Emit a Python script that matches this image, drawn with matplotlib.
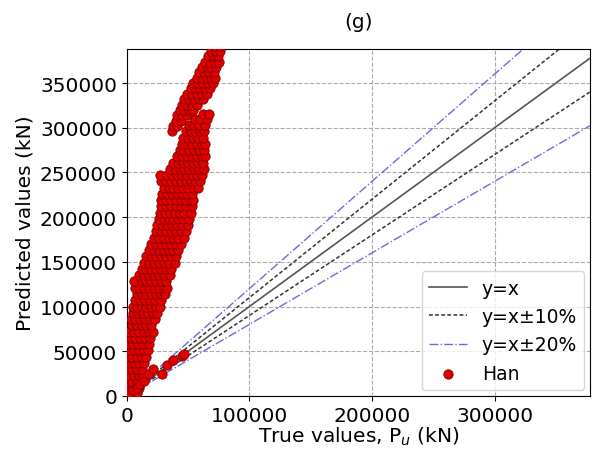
import numpy as np
import matplotlib.pyplot as plt; plt.close('all')

#------------------------------------------------------------------------------
# DATA (values in 1000 kN)
#------------------------------------------------------------------------------

# Han predictions, listed row by row: (predicted, [true values])
han_rows = [
    (3,   [0, 4, 8]),
    (9,   [2, 6, 10]),
    (16,  [0, 4, 8]),
    (23,  [2, 6, 10, 13]),
    (30,  [0, 4, 8, 12]),
    (37,  [2, 6, 10, 14]),
    (44,  [0, 4, 8, 12, 16]),
    (51,  [2, 6, 10, 14, 17]),
    (58,  [1, 5, 9, 13, 18]),
    (65,  [3, 7, 11, 15, 19]),
    (72,  [2, 6, 10, 14, 18, 21]),
    (79,  [4, 8, 12, 16, 20]),
    (86,  [3, 7, 11, 15, 19, 23]),
    (93,  [5, 9, 13, 17, 21, 25]),
    (100, [5, 8, 12, 16, 20, 24, 27]),
    (107, [7, 11, 15, 19, 23, 28]),
    (114, [8, 12, 16, 20, 24, 28, 31]),
    (121, [7, 10, 14, 18, 22, 26, 30, 33]),
    (128, [6, 12, 16, 20, 24, 28, 32]),
    (135, [10, 14, 18, 22, 26, 30, 35]),
    (142, [12, 16, 20, 24, 28, 32, 36]),
    (149, [14, 18, 22, 26, 30, 34, 39]),
    (156, [16, 20, 24, 28, 32, 36, 40]),
    (163, [18, 22, 26, 30, 34, 38, 42]),
    (170, [20, 24, 28, 32, 36, 40, 44]),
    (177, [22, 26, 30, 34, 38, 42, 47]),
    (184, [24, 28, 32, 36, 40, 44, 48]),
    (191, [25, 29, 33, 37, 41, 45, 50]),
    (198, [26, 30, 34, 38, 42, 46, 51]),
    (205, [27, 31, 35, 39, 43, 47, 52]),
    (212, [28, 32, 36, 40, 44, 48, 53]),
    (219, [28, 32, 36, 40, 44, 48, 52, 54]),
    (226, [29, 33, 37, 41, 45, 49, 53]),
    (233, [30, 34, 38, 42, 46, 50, 55, 58]),
    (240, [28, 32, 36, 40, 44, 48, 52, 56, 60]),
    (247, [27, 33, 37, 41, 45, 49, 53, 57, 61]),
    (254, [35, 39, 43, 47, 51, 55, 59, 63]),
    (261, [38, 42, 46, 50, 54, 58, 62]),
    (268, [41, 45, 49, 53, 57, 61, 64]),
    (275, [43, 47, 51, 55, 59, 63]),
    (282, [45, 49, 53, 57, 61, 64]),
    (289, [46, 50, 54, 58, 62]),
    (296, [48, 52, 56, 60, 63]),
    (303, [51, 55, 59, 64]),
    (310, [56, 60, 65]),
    (316, [62, 67]),
    # upper segment
    (296, [37]),
    (302, [38, 41]),
    (308, [40, 44]),
    (314, [41, 45, 49]),
    (320, [43, 47, 51, 54]),
    (326, [45, 49, 53, 57]),
    (332, [47, 51, 55, 59, 62]),
    (338, [49, 53, 57, 61, 65]),
    (344, [52, 56, 60, 64, 68]),
    (350, [54, 58, 62, 66, 70]),
    (356, [57, 61, 65, 69, 72]),
    (362, [59, 63, 67, 71]),
    (368, [61, 65, 69, 73]),
    (374, [64, 68, 72, 75]),
    (380, [66, 70, 74]),
    (386, [69, 73, 76]),
    (392, [72, 76]),
]

# points close to y = x
near_x = [2, 5, 8, 11, 14, 18, 21, 29, 33, 38, 45, 47]
near_y = [3, 6, 9, 13, 17, 24, 30, 25, 35, 40, 45, 47]

han_x = [x for y, xs in han_rows for x in xs] + near_x
han_y = [y for y, xs in han_rows for x in xs] + near_y
han_x = np.array(han_x) * 1000.
han_y = np.array(han_y) * 1000.

#------------------------------------------------------------------------------
# PLOT
#------------------------------------------------------------------------------

fontsize = 14.5
fig = plt.figure(figsize=(6.04, 4.52), dpi=100)
ax = fig.add_axes([0.21, 0.122, 0.767, 0.767])

lim = np.array([0, 400000])
ax.plot(lim, lim, color='#555555', lw=1.2, label='y=x')
ax.plot(lim, lim*1.1, color='#333333', lw=1.1, ls=(0, (2.5, 1.5)), label='y=x±10%')
ax.plot(lim, lim*0.9, color='#333333', lw=1.1, ls=(0, (2.5, 1.5)))
ax.plot(lim, lim*1.2, color='#6a6ae0', lw=1.0, ls='-.', label='y=x±20%')
ax.plot(lim, lim*0.8, color='#6a6ae0', lw=1.0, ls='-.')
ax.scatter(han_x, han_y, s=45, c='#e00000', edgecolors='#800000', linewidths=0.6,
           label='Han', zorder=3)

ax.set_xlim(0, 378000)
ax.set_ylim(0, 388000)
ax.set_xticks([0, 100000, 200000, 300000])
ax.set_yticks(np.arange(0, 350001, 50000))
ax.grid(True, ls='--', color='#aaaaaa', lw=0.8)
ax.tick_params(axis='both', which='major', labelsize=fontsize)
ax.set_xlabel('True values, P$_u$ (kN)', fontsize=fontsize, labelpad=0)
ax.set_ylabel('Predicted values (kN)', fontsize=fontsize)
ax.set_title('(g)', fontsize=fontsize, pad=16)
ax.legend(loc='lower right', fontsize=13.5, handlelength=2.0, borderaxespad=0.3)

plt.savefig('out.png', dpi=100)
